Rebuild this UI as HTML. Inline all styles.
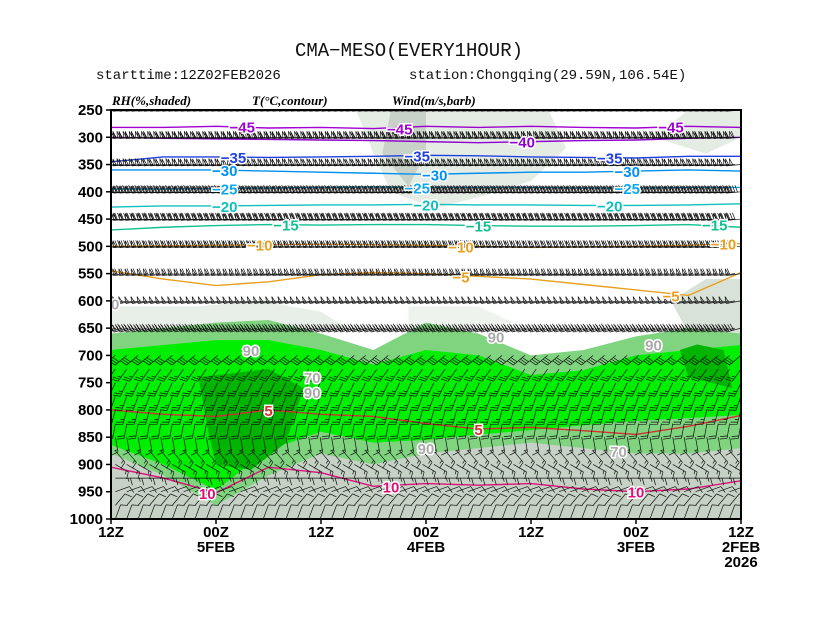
<!DOCTYPE html>
<html><head><meta charset="utf-8">
<style>
body{margin:0;background:#fff;}
svg{display:block;font-family:"Liberation Serif",serif;}
.ax{font-family:"Liberation Sans",sans-serif;font-weight:bold;font-size:15px;}
</style></head>
<body>
<svg id="chart" width="818" height="632" viewBox="0 0 818 632">
<text x="409" y="56" text-anchor="middle" font-size="19" fill="#111" font-family="Liberation Mono, monospace">CMA−MESO(EVERY1HOUR)</text>
<text x="96" y="79" font-size="14" fill="#111" font-family="Liberation Mono, monospace">starttime:12Z02FEB2026</text>
<text x="409" y="79" font-size="14" fill="#111" font-family="Liberation Mono, monospace">station:Chongqing(29.59N,106.54E)</text>
<text x="112" y="105" font-size="13" font-style="italic" font-weight="bold" font-family="Liberation Serif, serif">RH(%,shaded)</text>
<text x="252" y="105" font-size="13" font-style="italic" font-weight="bold" font-family="Liberation Serif, serif">T(°C,contour)</text>
<text x="392" y="105" font-size="13" font-style="italic" font-weight="bold" font-family="Liberation Serif, serif">Wind(m/s,barb)</text>
<g id="plot"></g>
</svg>
<script>
// ---- data ----
const hours = [0,6,12,18,24,30,36,42,48,54,60,66,72];
const pLevels = [250,300,350,400,450,500,550,600,650,700,750,800,850,900,950,1000];
const xTickLabels = ["12Z","00Z\n5FEB","12Z","00Z\n4FEB","12Z","00Z\n3FEB","12Z\n2FEB\n2026"];
const xTickHours = [72,60,48,36,24,12,0];
// RH shading bands (pressure at each hour)
const medTop = [660,650,665,690,700,660,640,690,660,635,640,650,660];
const medBot = [870,880,880,870,860,870,880,900,880,920,975,920,880];
const brightTop = [681,690,700,727,736,700,690,717,690,672,672,681,690];
const brightBot = [809,815,820,828,837,845,855,860,840,873,947,900,864];
// temperature contours
const tempLevels = [-45,-40,-35,-30,-25,-20,-15,-10,-5,5,10];
const tempP = [
 [282,280,283,282,280,282,280,284,282,283,280,282,282],
 [300,302,305,306,308,310,308,306,305,304,303,302,300],
 [335,335,338,337,336,334,333,335,336,337,336,336,345],
 [362,360,362,364,364,366,368,366,364,362,360,360,360],
 [392,392,393,393,392,392,392,391,392,393,394,395,395],
 [422,424,425,425,424,424,423,424,424,425,426,426,428],
 [465,460,462,463,463,462,460,460,461,460,462,465,470],
 [495,498,500,501,502,500,498,497,496,497,498,499,500],
 [548,590,580,570,560,555,550,548,552,565,572,560,545],
 [810,830,845,838,832,835,825,812,808,800,812,808,800],
 [930,945,950,945,935,938,935,940,915,905,952,925,905]
];
const tempColors = ["#a000d0","#9000d0","#2040e0","#0090f0","#10a8e8","#10c0c0","#10c090","#e8a020","#e8a020","#d03030","#e0107a"];
const tempLabelHours = [[57,39,8],[25],[58,37,15],[59,35,13],[59,37,13],[59,36,15],[52,30,3],[55,32,2],[32,8],[54,30],[61,40,12]];
// wind: levels, speed (m/s), direction (deg)
const windP = [250,300,350,400,450,500,550,600,650,700,725,750,775,800,825,850,875,900,925,950,975,1000];
const windSpd = [42,44,40,36,32,28,24,20,16,12,10,10,10,10,8,6,6,6,6,5,5,4];
const windDir = [265,265,265,265,265,265,262,260,255,230,215,205,200,195,190,170,140,120,90,70,40,20];
// RH labels
const rhLabelP = [[605,72],[690,56],[740,49],[767,49],[870,36],[875,14],[680,10],[665,28]];
const rhLabelV = ["30","90","70","90","90","70","90","90"];

// ---- axes ----
const X0=111,X1=741,Y0=110,Y1=519;
const xS=h=>X1-(h/72)*(X1-X0);
const yS=p=>Y0+(p-250)/750*(Y1-Y0);
const NS="http://www.w3.org/2000/svg";
const plot=document.getElementById('plot');
function mk(tag,attrs,parent){const e=document.createElementNS(NS,tag);for(const k in attrs)e.setAttribute(k,attrs[k]);(parent||plot).appendChild(e);return e;}

const defs=mk('defs',{});
const cp=mk('clipPath',{id:'clip'},defs);mk('rect',{x:X0,y:Y0,width:X1-X0,height:Y1-Y0},cp);
const g=mk('g',{'clip-path':'url(#clip)'});



mk('rect',{x:X0,y:Y0,width:X1-X0,height:Y1-Y0,fill:'#ffffff'},g);
function poly(pts,fill,name){const e=mk('polygon',{points:pts.map(a=>xS(a[0])+','+yS(a[1])).join(' '),fill:fill},g);return e;}
poly([[44,250],[22,250],[20,320],[24,380],[30,410],[35,430],[40,400],[42,330]],'#e4ece4','rh-upper-patch');
poly([[40,250],[36,250],[36,330],[38,390],[41,330]],'#c8d2c8','rh-upper-dark');
poly([[72,610],[62,610],[55,600],[48,620],[45,650],[72,660]],'#e8efe8','rh-left-patch');
poly([[38,610],[30,610],[26,640],[38,660]],'#eef3ee','rh-mid-patch');
poly([[0,250],[0,300],[4,330],[10,300],[6,250]],'#e4ece4','rh-right-patch');
poly([[4,560],[0,560],[0,680],[6,660],[8,600]],'#d8e2d8','rh-right-mid');
mk('rect',{x:X0,y:yS(800),width:X1-X0,height:Y1-yS(800),fill:'#c6d2c6'},g);
function band(top,bot,fill,name){let pts=[];hours.forEach((h,i)=>pts.push([h,top[i]]));for(let i=hours.length-1;i>=0;i--)pts.push([hours[i],bot[i]]);return poly(pts,fill,name);}
band(medTop,medBot,'#80d480','rh-band-80');
band(brightTop,brightBot,'#00ee00','rh-band-90');
poly([[62,740],[54,725],[50,760],[52,860],[56,910],[60,900],[61,830]],'#00b400','rh-band-95');
poly([[5,680],[2,690],[1,760],[6,740],[7,690]],'#00b400','rh-band-95-right');

tempLevels.forEach((lv,k)=>{
 const d=hours.map((h,i)=>(i?'L':'M')+xS(h)+','+yS(tempP[k][i])).join(' ');
 const e=mk('path',{d:d,fill:'none',stroke:tempColors[k],'stroke-width':1.4},g);
 
 
});

function barb(x,y,spd,dir){
 const r=dir*Math.PI/180,L=15;
 const ux=Math.sin(r),uy=-Math.cos(r);
 const px=-uy,py=ux;
 let d='M'+x+','+y+'L'+(x+ux*L)+','+(y+uy*L);
 let s=spd,pos=L;
 while(s>=20){d+='M'+(x+ux*pos)+','+(y+uy*pos)+'L'+(x+ux*(pos)+px*7)+','+(y+uy*pos+py*7)+'L'+(x+ux*(pos-3))+','+(y+uy*(pos-3));pos-=4;s-=20;}
 while(s>=4){d+='M'+(x+ux*pos)+','+(y+uy*pos)+'L'+(x+ux*(pos+2)+px*7)+','+(y+uy*(pos+2)+py*7);pos-=2.5;s-=4;}
 if(s>=2){d+='M'+(x+ux*pos)+','+(y+uy*pos)+'L'+(x+ux*(pos+1)+px*3.5)+','+(y+uy*(pos+1)+py*3.5);}
 return d;
}
const bg2=mk('g',{},g);


windP.forEach((p,i)=>{
 let d='';
 for(let h=0;h<=72;h+=(p<700?0.7:1.3)){d+=barb(xS(h),yS(p),windSpd[i],windDir[i]);}
 const e=mk('path',{d:d,fill:'none',stroke:'#111','stroke-width':0.7},bg2);
 
 
});

tempLevels.forEach((lv,k)=>{
 tempLabelHours[k].forEach(h=>{
  const i=Math.round(h/6);const y=yS(tempP[k][i]);
  const t=mk('text',{x:xS(h),y:y+6,'text-anchor':'middle','font-size':15,'font-weight':'bold','font-family':'Liberation Sans, sans-serif',fill:tempColors[k],stroke:'#fff','stroke-width':3,'paint-order':'stroke'},g);
  t.textContent=(lv<0?'−'+(-lv):''+lv);
  
  
 });
});
rhLabelP.forEach((a,i)=>{
 const t=mk('text',{x:xS(a[1]),y:yS(a[0])+6,'text-anchor':'middle','font-size':15,'font-weight':'bold','font-family':'Liberation Sans, sans-serif',fill:'#aaa',stroke:'#fff','stroke-width':3,'paint-order':'stroke'},g);
 t.textContent=rhLabelV[i];
 
 
});

const fr=mk('rect',{x:X0,y:Y0,width:X1-X0,height:Y1-Y0,fill:'none',stroke:'#000','stroke-width':2});


pLevels.forEach(p=>{
 const y=yS(p);
 const l=mk('line',{x1:X0-5,x2:X0,y1:y,y2:y,stroke:'#000','stroke-width':1.5});
 
 
 const t=mk('text',{x:X0-8,y:y+5,'text-anchor':'end',class:'ax'});
 t.textContent=p;
 
 
});
xTickHours.forEach((h,i)=>{
 const x=xS(h);
 const l=mk('line',{x1:x,x2:x,y1:Y1,y2:Y1+5,stroke:'#000','stroke-width':1.5});
 
 
 xTickLabels[i].split('\n').forEach((s,j)=>{
  const t=mk('text',{x:x,y:Y1+18+j*15,'text-anchor':'middle',class:'ax'});
  t.textContent=s;
  
  
 });
});
</script>
</body></html>
